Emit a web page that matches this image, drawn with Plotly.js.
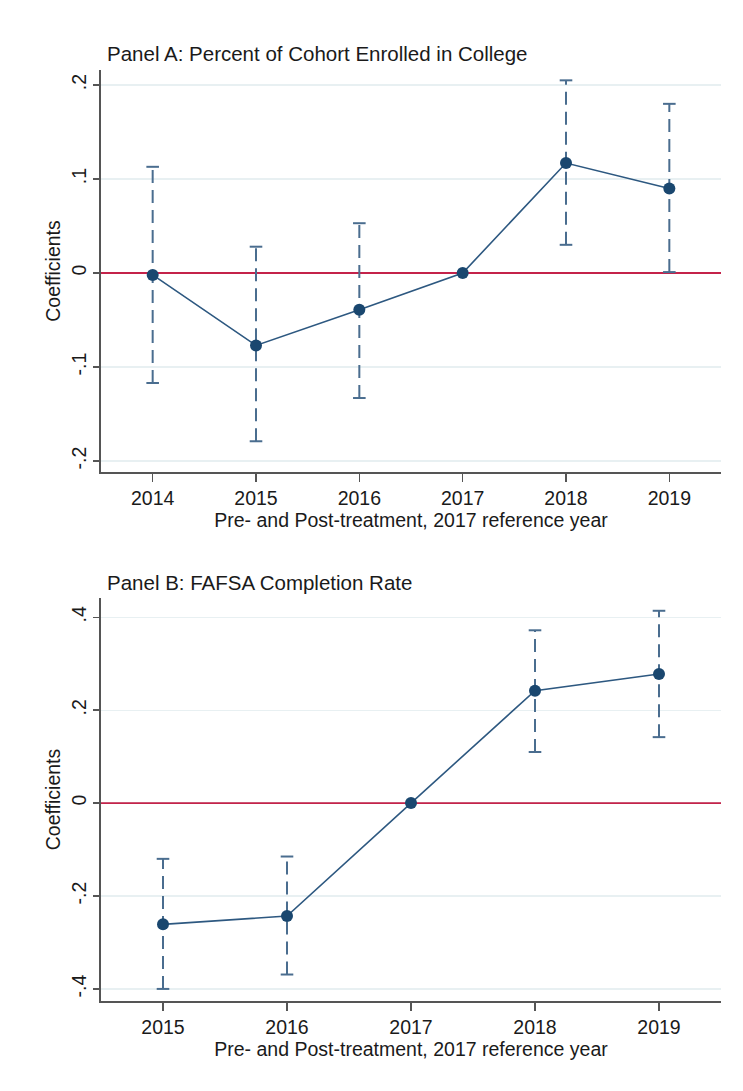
<!DOCTYPE html>
<html>
<head>
<meta charset="utf-8">
<script src="https://cdn.plot.ly/plotly-3.0.1.min.js"></script>
<style>html,body{margin:0;padding:0;background:#fff;}#chart{width:743px;height:1091px;}</style>
</head>
<body>
<div id="chart"></div>
<script>
// Panel A: Percent of Cohort Enrolled in College
const yearsA = [2014, 2015, 2016, 2017, 2018, 2019];
const coefA  = [-0.002, -0.077, -0.039, 0, 0.117, 0.090];
const lowA   = [-0.117, -0.179, -0.133, null, 0.030, 0.001];
const highA  = [0.113, 0.028, 0.053, null, 0.205, 0.180];
const ticksA = [-0.2, -0.1, 0, 0.1, 0.2];
const tickTextA = ["-.2", "-.1", "0", ".1", ".2"];

// Panel B: FAFSA Completion Rate
const yearsB = [2015, 2016, 2017, 2018, 2019];
const coefB  = [-0.261, -0.243, 0, 0.242, 0.278];
const lowB   = [-0.400, -0.369, null, 0.110, 0.142];
const highB  = [-0.120, -0.115, null, 0.372, 0.414];
const ticksB = [-0.4, -0.2, 0, 0.2, 0.4];
const tickTextB = ["-.4", "-.2", "0", ".2", ".4"];

const titleA = "Panel A: Percent of Cohort Enrolled in College";
const titleB = "Panel B: FAFSA Completion Rate";
const xTitle = "Pre- and Post-treatment, 2017 reference year";
const yTitle = "Coefficients";

const NAVY = "#1a476f";
const CI_COLOR = "#4a6d8f";
const RED = "#c4234a";
const FONT = "Liberation Sans, Arial, sans-serif";

function ciTraces(years, low, high, xa, ya) {
  const sx = [], sy = [], cx = [], cy = [];
  years.forEach((yr, i) => {
    if (low[i] === null || high[i] === null) return;
    sx.push(yr, yr, null); sy.push(low[i], high[i], null);
    cx.push(yr, yr); cy.push(low[i], high[i]);
  });
  return [
    {x: sx, y: sy, xaxis: xa, yaxis: ya, mode: "lines", type: "scatter",
     line: {color: CI_COLOR, width: 2, dash: "13px,7px"}, hoverinfo: "skip", showlegend: false},
    {x: cx, y: cy, xaxis: xa, yaxis: ya, mode: "markers", type: "scatter",
     marker: {symbol: "line-ew", size: 9, line: {color: CI_COLOR, width: 2}}, hoverinfo: "skip", showlegend: false}
  ];
}

function pointTrace(years, coef, xa, ya) {
  return {x: years, y: coef, xaxis: xa, yaxis: ya, mode: "lines+markers", type: "scatter",
    line: {color: "#2d5880", width: 1.6}, marker: {color: NAVY, size: 12}, showlegend: false};
}

function zeroTrace(xr, xa, ya) {
  return {x: xr, y: [0, 0], xaxis: xa, yaxis: ya, mode: "lines", type: "scatter",
    line: {color: RED, width: 1.8}, hoverinfo: "skip", showlegend: false};
}

const xRangeA = [2013.5, 2019.5];
const xRangeB = [2014.5, 2019.5];

const data = [
  zeroTrace(xRangeA, "x", "y"),
  ...ciTraces(yearsA, lowA, highA, "x", "y"),
  pointTrace(yearsA, coefA, "x", "y"),
  zeroTrace(xRangeB, "x2", "y2"),
  ...ciTraces(yearsB, lowB, highB, "x2", "y2"),
  pointTrace(yearsB, coefB, "x2", "y2")
];

const H = 1091, W = 743;
const xDom = [101 / W, 721 / W];

function xaxis(years, range, anchor) {
  return {
    domain: xDom, range: range, anchor: anchor,
    tickvals: years, ticktext: years.map(String),
    showgrid: false, zeroline: false,
    showline: true, linecolor: "#555", linewidth: 1.6,
    ticks: "outside", ticklen: 8, tickwidth: 1.5, tickcolor: "#555",
    tickfont: {family: FONT, size: 19.5, color: "#1a1a1a"},
    title: {text: xTitle, font: {family: FONT, size: 19.5, color: "#1a1a1a"}, standoff: 0}
  };
}

function yaxis(dom, range, ticks, ticktext, anchor) {
  return {
    domain: dom, range: range, anchor: anchor,
    tickvals: ticks, ticktext: ticktext, tickangle: -90,
    showgrid: true, gridcolor: "#e8f0f2", gridwidth: 1.2, zeroline: false,
    showline: true, linecolor: "#555", linewidth: 1.6,
    ticks: "outside", ticklen: 6, tickwidth: 1.5, tickcolor: "#555",
    tickfont: {family: FONT, size: 19.5, color: "#1a1a1a"},
    title: {text: yTitle, font: {family: FONT, size: 19.5, color: "#1a1a1a"}, standoff: 2}
  };
}

const layout = {
  width: W, height: H,
  margin: {l: 0, r: 0, t: 0, b: 0},
  paper_bgcolor: "#ffffff", plot_bgcolor: "#ffffff",
  showlegend: false,
  xaxis: xaxis(yearsA, xRangeA, "y"),
  yaxis: yaxis([1 - 472 / H, 1 - 70 / H], [-0.2117, 0.216], ticksA, tickTextA, "x"),
  xaxis2: xaxis(yearsB, xRangeB, "y2"),
  yaxis2: yaxis([1 - 1001 / H, 1 - 598 / H], [-0.426, 0.4415], ticksB, tickTextB, "x2"),
  annotations: [
    {text: titleA, xref: "paper", yref: "paper", x: 105 / W, y: 1 - 54 / H,
     xanchor: "left", yanchor: "middle", showarrow: false,
     font: {family: FONT, size: 20.5, color: "#1a1a1a"}},
    {text: titleB, xref: "paper", yref: "paper", x: 105 / W, y: 1 - 582 / H,
     xanchor: "left", yanchor: "middle", showarrow: false,
     font: {family: FONT, size: 20.5, color: "#1a1a1a"}}
  ]
};

Plotly.newPlot("chart", data, layout, {displayModeBar: false, staticPlot: true});
</script>
</body>
</html>
